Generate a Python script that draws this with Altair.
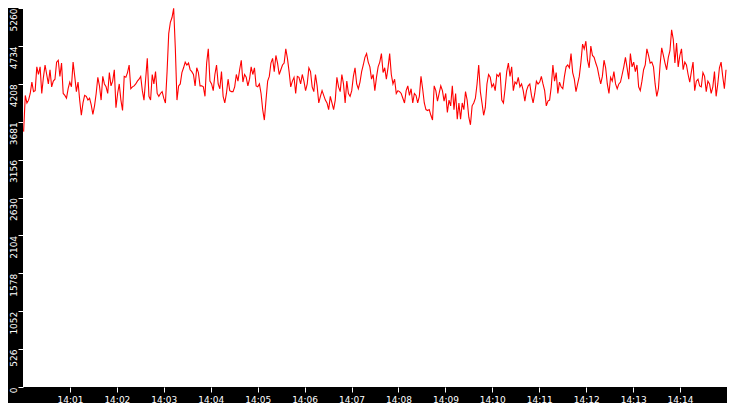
import altair as alt
import numpy as np
import pandas as pd

# values, in six consecutive blocks (~2.5 min each)
seg1 = [3544,4046,3942,3981,4074,4232,4100,4113,4443,4337,
        4443,4074,4298,4469,4337,4206,4403,4166,4245,4272,
        4509,4535,4311,4496,4074,4047,4008,4140,4232,4166,
        4509,4311,4100,4232,3982,3771,3942,4047,4034,3982,
        4008,3916,3784,3902,4074,4298,4179,3982,4311,4206,
        4166,4074,4364,4179,4245,4403,3876,4074,4206,3982,
        3837,4311,4298,4364,4469,4140,4166,4179,4206,4245,
        4272]
seg2 = [4311,4113,3982,4272,4561,4034,3982,4337,4206,4377,
        4074,4034,4074,4100,4008,3942,4377,4904,5062,5128,
        5255,4706,3982,4179,4206,4364,4430,4509,4469,4496,
        4403,4377,4337,4179,4430,4364,4179,4179,4166,4034,
        4496,4693,4245,4206,4113,4337,4469,4206,4140,4377,
        4034,3942,4074,4272,4113,4100,4100,4166,4337,4245,
        4403,4535,4232,4337,4298,4179,4272,4443,4337,4430,
        4179]
seg3 = [4166,4206,4074,3850,3705,3982,4245,4311,4496,4561,
        4377,4601,4496,4337,4403,4469,4496,4693,4561,4377,
        4166,4245,4298,4074,4311,4298,4206,4337,4245,4113,
        4206,4430,4377,4166,4100,4337,4179,3942,4034,4113,
        4047,3982,3942,3850,4034,3942,3850,3982,4298,4166,
        4100,4337,4206,3942,4245,4074,4034,4113,4311,4430,
        4206,4140,4232,4377,4469,4575,4627,4509,4443,4272,
        4337]
seg4 = [4113,4298,4443,4509,4627,4364,4430,4272,4430,4627,
        4337,4206,4272,4074,4113,4100,4074,4008,3942,4113,
        4179,4047,4140,3942,4074,4047,3942,4034,4311,4140,
        3942,3850,3837,3850,3771,3705,4179,4113,3968,4074,
        4179,4113,3968,4074,3810,3982,3902,4179,3850,4074,
        3718,3942,3718,3942,3850,4100,3982,3744,3639,3902,
        3942,4008,4206,4469,4100,3942,3771,3876,4206,4337,
        4298]
seg5 = [4166,4206,4113,4337,4311,4364,3982,3942,4140,4377,
        4496,4311,4443,4113,4232,4206,4298,4166,4206,4113,
        3968,4113,4179,4206,4047,3942,4074,4245,4206,4232,
        4311,4206,4113,3902,3968,3982,4166,4469,4245,4364,
        4074,4232,4166,4140,4311,4443,4469,4430,4627,4364,
        4272,4100,4206,4311,4509,4759,4693,4799,4535,4430,
        4733,4601,4575,4496,4430,4311,4206,4311,4535,4430,
        4206]
seg6 = [4074,4298,4245,4377,4206,4140,4206,4232,4337,4443,
        4575,4430,4272,4627,4443,4509,4377,4469,4166,4113,
        4245,4403,4469,4693,4601,4496,4509,4443,4206,4034,
        4140,4469,4706,4601,4496,4403,4575,4667,4957,4825,
        4496,4772,4443,4601,4693,4403,4509,4469,4337,4232,
        4377,4509,4113,4245,4272,4179,4166,4364,4311,4100,
        4245,4206,4074,4166,4377,4034,4206,4430,4509,4311,
        4140,4403]

y_ticks = [0, 526, 1052, 1578, 2104, 2630, 3156, 3681, 4208, 4734, 5260]

base_ms = 1704117600000  # 14:00:00 UTC
values = seg1 + seg2 + seg3 + seg4 + seg5 + seg6
secs = np.linspace(0.8, 898.75, len(values))
df = pd.DataFrame({"t": base_ms + secs * 1000.0, "v": values})

x_ticks = [base_ms + k * 60000 for k in range(1, 15)]

chart = alt.Chart(df).mark_line(color="#ff0000", strokeWidth=1.1).encode(
    x=alt.X("t:T",
            scale=alt.Scale(type="utc", domain=[base_ms, base_ms + 900000]),
            axis=alt.Axis(values=x_ticks, labelExpr="utcFormat(datum.value, '%H:%M')",
                          title=None, grid=False, domain=False, tickColor="white",
                          tickSize=5, labelColor="white", labelFont="DejaVu Sans",
                          labelFontSize=9, labelPadding=3, labelOverlap=False,
                          labelFlush=False)),
    y=alt.Y("v:Q",
            scale=alt.Scale(domain=[0, 5260], nice=False, zero=False),
            axis=alt.Axis(values=y_ticks, format="d", title=None, grid=False, domain=False,
                          tickColor="white", tickSize=5, labelColor="white",
                          labelFont="DejaVu Sans", labelFontSize=9, labelAngle=270,
                          labelAlign="right", labelBaseline="alphabetic",
                          labelPadding=2, labelOverlap=False)),
).properties(
    width=704, height=379,
    autosize="none",
    padding={"left": 15, "top": 0, "right": 0, "bottom": 16},
).configure(background="black").configure_view(fill="white", stroke=None, strokeWidth=0)

chart.save("out.html", embed_options={"renderer": "svg", "actions": False})
